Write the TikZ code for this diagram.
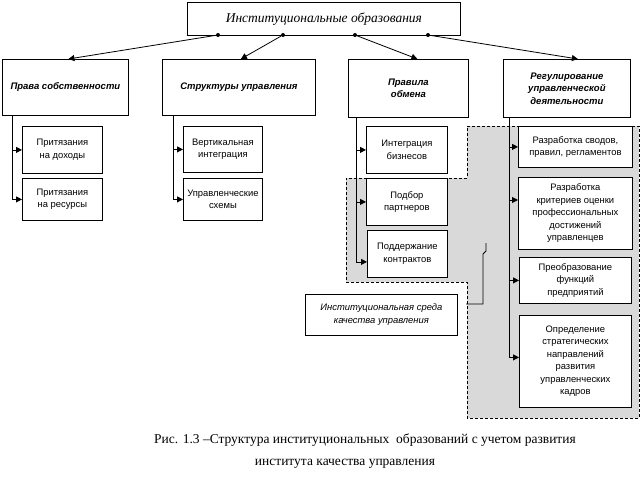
\documentclass[tikz,border=0pt]{standalone}
\usepackage{fontspec}
\setmainfont{Liberation Serif}
\setsansfont{Liberation Sans}
\usetikzlibrary{arrows.meta,calc}
\begin{document}
\begin{tikzpicture}[x=1pt,y=-1pt,
  line width=0.8pt,
  box/.style={draw,fill=white,line width=0.8pt,inner sep=0pt,anchor=north west,align=center},
  lvl2/.style={box,font=\sffamily\bfseries\itshape\fontsize{9.5}{12.5}\selectfont},
  lvl3/.style={box,font=\sffamily\fontsize{9.4}{12.5}\selectfont},
  arr/.style={-{Triangle[length=6pt,width=6pt]}},
  region/.style={draw,dashed,dash pattern=on 3pt off 2pt,fill=black!15},
  dot/.style={circle,fill=black,inner sep=0pt,minimum size=4pt}
]
\useasboundingbox (0,0) rectangle (641,490);

% shaded region
\draw[region] (467,126) -- (639,126) -- (639,418) -- (467,418) -- (467,282)
  -- (346,282) -- (346,178) -- (467,178) -- cycle;

% top
\node[box,minimum width=273pt,minimum height=33pt,font=\itshape\fontsize{13.5}{15}\selectfont]
  (top) at (187,2) {Институциональные образования};

% level 2
\node[lvl2,minimum width=126pt,minimum height=56pt] (b1) at (2,59) {Права собственности};
\node[lvl2,minimum width=153pt,minimum height=56pt] (b2) at (162,59) {Структуры управления};
\node[lvl2,minimum width=120pt,minimum height=58pt] (b3) at (348,59) {Правила\\обмена};
\node[lvl2,minimum width=127pt,minimum height=58pt] (b4) at (503,59) {Регулирование\\управленческой\\деятельности};

% level 3
\node[lvl3,minimum width=80pt,minimum height=47pt] (c11) at (22,126) {Притязания\\на доходы};
\node[lvl3,minimum width=80pt,minimum height=42pt] (c12) at (22,178) {Притязания\\на ресурсы};
\node[lvl3,minimum width=79pt,minimum height=46pt] (c21) at (183,126) {Вертикальная\\интеграция};
\node[lvl3,minimum width=79pt,minimum height=42pt] (c22) at (183,178) {Управленческие\\схемы};
\node[lvl3,minimum width=81pt,minimum height=47pt] (c31) at (366,126) {Интеграция\\бизнесов};
\node[lvl3,minimum width=81pt,minimum height=47pt] (c32) at (366,178) {Подбор\\партнеров};
\node[lvl3,minimum width=80pt,minimum height=47pt] (c33) at (367,230) {Поддержание\\контрактов};
\node[lvl3,minimum width=114pt,minimum height=41pt] (c41) at (518,126) {Разработка сводов,\\правил, регламентов};
\node[lvl3,minimum width=114pt,minimum height=72pt] (c42) at (518,177) {Разработка\\критериев оценки\\профессиональных\\достижений\\управленцев};
\node[lvl3,minimum width=112pt,minimum height=46pt] (c43) at (519,257) {Преобразование\\функций\\предприятий};
\node[lvl3,minimum width=112pt,minimum height=92pt] (c44) at (519,315) {Определение\\стратегических\\направлений\\развития\\управленческих\\кадров};

% environment label
\node[box,minimum width=152pt,minimum height=41pt,font=\sffamily\itshape\fontsize{9.4}{13}\selectfont]
  (env) at (305,294) {Институциональная среда\\качества управления};

% dots and links from top
\node[dot] (d1) at (218,35) {};
\node[dot] (d2) at (283,35) {};
\node[dot] (d3) at (355,35) {};
\node[dot] (d4) at (428,35) {};
\draw[arr] (d1) -- ($(b1.north)+(3,0)$);
\draw[arr] (d2) -- ($(b2.north)+(2,0)$);
\draw[arr] (d3) -- ($(b3.north)+(9,0)$);
\draw[arr] (d4) -- ($(b4.north)+(11,0)$);

% spines
\coordinate (s1) at ($(b1.south west)+(10,0)$);
\draw (s1) -- (s1 |- c12.west);
\draw[arr] (s1 |- c11.west) -- (c11.west);
\draw[arr] (s1 |- c12.west) -- (c12.west);

\coordinate (s2) at ($(b2.south west)+(11,0)$);
\draw (s2) -- (s2 |- c22.west);
\draw[arr] (s2 |- c21.west) -- (c21.west);
\draw[arr] (s2 |- c22.west) -- (c22.west);

\coordinate (s3) at ($(b3.south west)+(8,0)$);
\coordinate (p33) at ($(c33.west)+(0,8)$);
\draw (s3) -- (s3 |- p33);
\draw[arr] (s3 |- c31.west) -- (c31.west);
\draw[arr] (s3 |- c32.west) -- (c32.west);
\draw[arr] (s3 |- p33) -- (p33);

\coordinate (s4) at ($(b4.south west)+(6,0)$);
\coordinate (p42) at ($(c42.north west)+(0,23)$);
\coordinate (p44) at ($(c44.west)+(0,-4)$);
\draw (s4) -- (s4 |- p44);
\draw[arr] (s4 |- c41.west) -- (c41.west);
\draw[arr] (s4 |- p42) -- (p42);
\draw[arr] (s4 |- c43.west) -- (c43.west);
\draw[arr] (s4 |- p44) -- (p44);

% link from region
\coordinate (e1) at (466,304);
\coordinate (e2) at (486,243);
\draw (e1) -- (483,304) -- (483,254) -- (486,251) -- (e2);

% caption
\node[font=\fontsize{13.5}{15}\selectfont] (cap1) at (365,440)
  {Рис. 1.3 –Структура институциональных\ \ образований с учетом развития};
\node[font=\fontsize{13.5}{15}\selectfont] (cap2) at (345,464)
  {института качества управления};
\end{tikzpicture}
\end{document}
